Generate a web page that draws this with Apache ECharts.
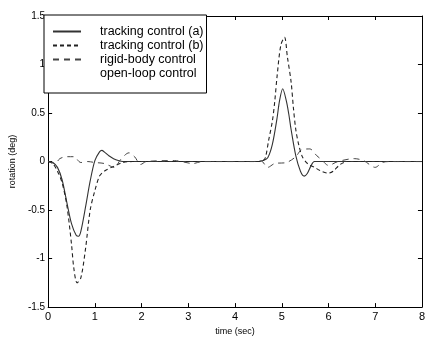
<!DOCTYPE html>
<html>
<head>
<meta charset="utf-8">
<script src="https://cdn.jsdelivr.net/npm/echarts@6/dist/echarts.min.js"></script>
<style>
  html, body {margin: 0; padding: 0; background: #fff;}
  #chart {width: 428px; height: 341px;}
</style>
</head>
<body>
<div id="chart"></div>
<script>
// time samples (sec) and rotation values (deg)
const timeA = [0, 0.1, 0.2, 0.3, 0.4, 0.5, 0.6, 0.65, 0.7, 0.8, 0.9, 1.0, 1.1, 1.15, 1.2, 1.3, 1.4, 1.5, 1.6,
  4.5, 4.6, 4.7, 4.8, 4.9, 4.95, 5.02, 5.1, 5.15, 5.2, 5.3, 5.4, 5.48, 5.55, 5.62, 5.7, 8];
const trackingA = [0, -0.01, -0.06, -0.19, -0.42, -0.64, -0.76, -0.77, -0.72, -0.47, -0.2, 0.01, 0.1, 0.115, 0.1, 0.06, 0.03, 0.01, 0,
  0, 0.01, 0.04, 0.18, 0.45, 0.62, 0.75, 0.62, 0.49, 0.33, 0.06, -0.1, -0.15, -0.12, -0.05, 0, 0];

const timeB = [0, 0.1, 0.2, 0.3, 0.4, 0.5, 0.55, 0.62, 0.7, 0.8, 0.9, 1.0, 1.1, 1.2, 1.4, 1.6, 1.8,
  4.5, 4.6, 4.65, 4.72, 4.8, 4.85, 4.9, 4.98, 5.06, 5.12, 5.2, 5.25, 5.3, 5.36, 5.44, 5.55, 5.7, 5.85, 6.0, 6.1, 6.25, 6.4, 8];
const trackingB = [0, -0.02, -0.1, -0.22, -0.45, -0.85, -1.1, -1.25, -1.2, -0.9, -0.5, -0.3, -0.15, -0.1, -0.05, -0.01, 0,
  0, 0.01, 0.04, 0.22, 0.42, 0.62, 0.88, 1.2, 1.28, 1.08, 0.82, 0.55, 0.33, 0.18, 0.05, -0.02, -0.06, -0.1, -0.12, -0.1, -0.03, 0, 0];

const timeR = [0, 0.15, 0.25, 0.4, 0.55, 0.7, 0.85, 1.0, 1.2, 1.42, 1.55, 1.73, 1.85, 1.98, 2.1, 2.7, 3.1, 3.3,
  4.4, 4.55, 4.7, 4.85, 5.1, 5.3, 5.42, 5.6, 5.75, 5.85, 6.0, 6.2, 6.55, 6.75, 7.0, 7.15, 7.3, 8];
const rigidBody = [0, -0.02, 0.03, 0.05, 0.05, -0.01, 0, -0.01, -0.02, -0.06, 0.02, 0.09, 0.05, -0.03, 0, 0.01, -0.02, 0,
  0, 0.01, -0.06, -0.02, -0.01, 0.05, 0.12, 0.13, 0.06, 0.02, -0.04, 0, 0.03, 0.01, -0.06, -0.01, 0, 0];

const yTicks = ['-1.5', '-1', '-0.5', '0', '0.5', '1', '1.5'];
const seriesNames = ['tracking control (a)', 'tracking control (b)', 'rigid-body control', 'open-loop control'];

const pairs = (ts, vs) => ts.map((t, i) => [t, vs[i]]);
const font = 'Liberation Sans';

const chart = echarts.init(document.getElementById('chart'));

const xBase = {
  type: 'value', min: 0, max: 8, interval: 1,
  axisLine: {show: true, onZero: false, lineStyle: {color: '#000', width: 1}},
  axisTick: {show: true, inside: true, length: 4, lineStyle: {color: '#000'}},
  splitLine: {show: false},
};
const yBase = {
  type: 'value', min: -1.5, max: 1.5, interval: 0.5,
  axisLine: {show: true, onZero: false, lineStyle: {color: '#000', width: 1}},
  axisTick: {show: true, inside: true, length: 4, lineStyle: {color: '#000'}},
  splitLine: {show: false},
};

chart.setOption({
  animation: false,
  backgroundColor: '#fff',
  textStyle: {fontFamily: font},
  grid: {left: 42, right: 3, top: 16, bottom: 25},
  legend: {
    orient: 'vertical',
    left: 44, top: 15,
    itemWidth: 28, itemHeight: 10, itemGap: 1,
    padding: [10, 3, 13, 8],
    borderColor: '#000', borderWidth: 1, borderRadius: 0,
    backgroundColor: '#fff',
    itemStyle: {color: 'transparent', borderWidth: 0},
    textStyle: {fontFamily: font, fontSize: 12.5, color: '#000', padding: [0, 0, 0, 14]},
    data: [
      {name: seriesNames[0]},
      {name: seriesNames[1]},
      {name: seriesNames[2]},
      {name: seriesNames[3], icon: 'none'},
    ],
  },
  xAxis: [
    {
      ...xBase, position: 'bottom',
      name: 'time (sec)', nameLocation: 'middle', nameGap: 19,
      nameTextStyle: {fontFamily: font, fontSize: 9, color: '#000'},
      axisLabel: {fontFamily: font, fontSize: 11, color: '#000', margin: 4},
    },
    {...xBase, position: 'top', axisLabel: {show: false}},
  ],
  yAxis: [
    {
      ...yBase, position: 'left',
      name: 'rotation (deg)', nameLocation: 'middle', nameGap: 22, nameRotate: 90,
      nameTextStyle: {fontFamily: font, fontSize: 9, color: '#000'},
      axisLabel: {
        fontFamily: font, fontSize: 10, color: '#000', margin: 3,
        formatter: v => yTicks[Math.round((v + 1.5) / 0.5)],
      },
    },
    {...yBase, position: 'right', axisLabel: {show: false}},
  ],
  series: [
    {name: seriesNames[0], data: pairs(timeA, trackingA), lineStyle: {color: '#333', width: 1.1, type: 'solid'}},
    {name: seriesNames[1], data: pairs(timeB, trackingB), lineStyle: {color: '#222', width: 1.1, type: [4, 3]}},
    {name: seriesNames[2], data: pairs(timeR, rigidBody), lineStyle: {color: '#444', width: 1, type: [6, 5]}},
    {name: seriesNames[3], data: [], lineStyle: {color: '#000', width: 1, type: 'dotted'}},
  ].map(s => ({
    ...s,
    type: 'line',
    smooth: 0.3,
    symbol: 'none',
    itemStyle: {color: '#000'},
    xAxisIndex: 0, yAxisIndex: 0,
  })),
});
</script>
</body>
</html>
